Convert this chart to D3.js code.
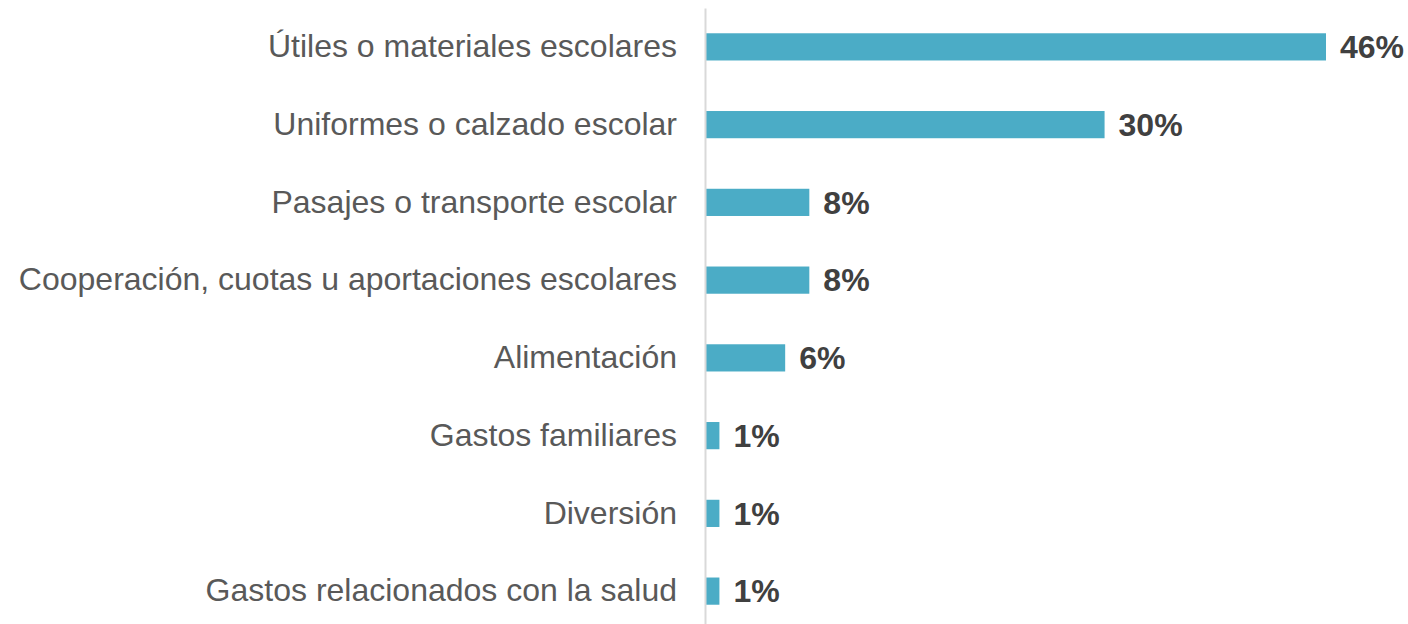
<!DOCTYPE html>
<html>
<head>
<meta charset="utf-8">
<script src="https://cdn.jsdelivr.net/npm/d3@7"></script>
<style>
  body { margin: 0; background: #fff; }
  svg { display: block; }
</style>
</head>
<body>
<div id="chart"></div>
<script>
// categories and shares (%)
var categories = [
  "Útiles o materiales escolares",
  "Uniformes o calzado escolar",
  "Pasajes o transporte escolar",
  "Cooperación, cuotas u aportaciones escolares",
  "Alimentación",
  "Gastos familiares",
  "Diversión",
  "Gastos relacionados con la salud"
];
var values = [46.2, 29.7, 7.7, 7.7, 5.9, 1.0, 1.0, 1.0];

var width = 1408, height = 624;
var axisX = 706;

var svg = d3.select("#chart").append("svg")
  .attr("width", width)
  .attr("height", height);

var x = d3.scaleLinear()
  .domain([0, 46.2])
  .range([axisX, 1326]);

var y = d3.scaleBand()
  .domain(categories)
  .range([8, 630])
  .paddingInner(0.65)
  .paddingOuter(0.325);

var data = categories.map(function (c, i) {
  return {cat: c, val: values[i]};
});

// bars
svg.selectAll(".bar")
  .data(data)
  .enter().append("rect")
  .attr("class", "bar")
  .attr("fill", "#4BACC6")
  .attr("x", x(0))
  .attr("y", function (d) { return y(d.cat); })
  .attr("width", function (d) { return x(d.val) - x(0); })
  .attr("height", y.bandwidth());

// category axis
var axis = svg.append("g")
  .attr("transform", "translate(" + (axisX - 1) + ",0)")
  .call(d3.axisLeft(y).tickSize(0).tickPadding(28));

axis.select(".domain")
  .attr("stroke", "#d9d9d9")
  .attr("stroke-width", 2);

axis.selectAll("text")
  .style("font-family", "'Liberation Sans', Arial, sans-serif")
  .style("font-size", "32px")
  .attr("fill", "#595959");

// value labels
svg.selectAll(".val")
  .data(data)
  .enter().append("text")
  .attr("class", "val")
  .attr("x", function (d) { return x(d.val) + 14; })
  .attr("y", function (d) { return y(d.cat) + y.bandwidth() / 2; })
  .attr("dy", "0.35em")
  .style("font-family", "'Liberation Sans', Arial, sans-serif")
  .style("font-size", "32px")
  .style("font-weight", "bold")
  .attr("fill", "#404040")
  .text(function (d) { return d3.format(".0f")(d.val) + "%"; });
</script>
</body>
</html>
